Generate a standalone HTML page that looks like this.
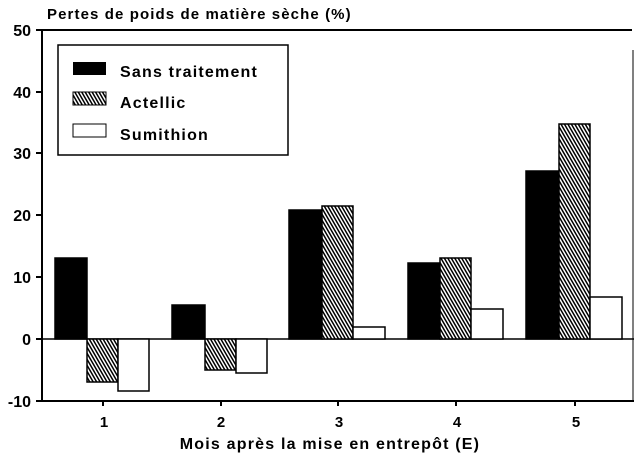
<!DOCTYPE html>
<html><head><style>body{margin:0;background:#fff}svg{display:block}text{font-family:"Liberation Sans",sans-serif;font-weight:bold;fill:#000}</style></head><body>
<svg width="642" height="461" viewBox="0 0 642 461">
<defs><pattern id="h" width="3" height="3" patternUnits="userSpaceOnUse" patternTransform="rotate(-30)"><rect width="3" height="3" fill="#fff"/><rect width="1.5" height="3" fill="#000"/></pattern></defs>
<text x="47" y="19" font-size="15" letter-spacing="1.1">Pertes de poids de matière sèche (%)</text>
<g stroke="#000" stroke-width="2" fill="none">
<line x1="42" y1="30" x2="42" y2="401"/>
<line x1="42" y1="30" x2="632" y2="30"/>
<line x1="42" y1="401" x2="634" y2="401"/>
<line x1="633" y1="50" x2="633" y2="401" stroke-width="1"/>
<line x1="42" y1="339" x2="634" y2="339" stroke-width="1.5"/>
<line x1="36" y1="30" x2="42" y2="30"/><line x1="36" y1="92" x2="42" y2="92"/><line x1="36" y1="153" x2="42" y2="153"/><line x1="36" y1="215" x2="42" y2="215"/><line x1="36" y1="277" x2="42" y2="277"/><line x1="36" y1="339" x2="42" y2="339"/><line x1="36" y1="401" x2="42" y2="401"/>
<line x1="103" y1="401" x2="103" y2="406"/><line x1="221" y1="401" x2="221" y2="406"/><line x1="338" y1="401" x2="338" y2="406"/><line x1="456" y1="401" x2="456" y2="406"/><line x1="575" y1="401" x2="575" y2="406"/>
</g>
<g font-size="16" text-anchor="end">
<text x="31" y="36">50</text><text x="31" y="98">40</text><text x="31" y="159">30</text><text x="31" y="221">20</text><text x="31" y="283">10</text><text x="31" y="345">0</text><text x="31" y="407">-10</text>
</g>
<g font-size="15" text-anchor="middle">
<text x="104" y="427">1</text><text x="221" y="427">2</text><text x="339" y="427">3</text><text x="457" y="427">4</text><text x="576" y="427">5</text>
<text x="330" y="449" font-size="16" letter-spacing="1.2">Mois après la mise en entrepôt (E)</text>
</g>
<g stroke="#000" stroke-width="1.5">
<rect x="55" y="258" width="32" height="81" fill="#000"/>
<rect x="87" y="339" width="31" height="43" fill="url(#h)"/>
<rect x="118" y="339" width="31" height="52" fill="#fff"/>
<rect x="172" y="305" width="33" height="34" fill="#000"/>
<rect x="205" y="339" width="31" height="31" fill="url(#h)"/>
<rect x="236" y="339" width="31" height="34" fill="#fff"/>
<rect x="289" y="210" width="33" height="129" fill="#000"/>
<rect x="322" y="206" width="31" height="133" fill="url(#h)"/>
<rect x="353" y="327" width="32" height="12" fill="#fff"/>
<rect x="408" y="263" width="32" height="76" fill="#000"/>
<rect x="440" y="258" width="31" height="81" fill="url(#h)"/>
<rect x="471" y="309" width="32" height="30" fill="#fff"/>
<rect x="526" y="171" width="33" height="168" fill="#000"/>
<rect x="559" y="124" width="31" height="215" fill="url(#h)"/>
<rect x="590" y="297" width="32" height="42" fill="#fff"/>
</g>
<rect x="58" y="45" width="230" height="110" fill="#fff" stroke="#000" stroke-width="1.5"/>
<rect x="73" y="62" width="33" height="13" fill="#000"/>
<rect x="73" y="92" width="33" height="13" fill="url(#h)" stroke="#000" stroke-width="1"/>
<rect x="73" y="124" width="33" height="13" fill="#fff" stroke="#000" stroke-width="1"/>
<g font-size="16" letter-spacing="1.2"><text x="120" y="77">Sans traitement</text><text x="120" y="108">Actellic</text><text x="120" y="140">Sumithion</text></g>
</svg>
</body></html>
